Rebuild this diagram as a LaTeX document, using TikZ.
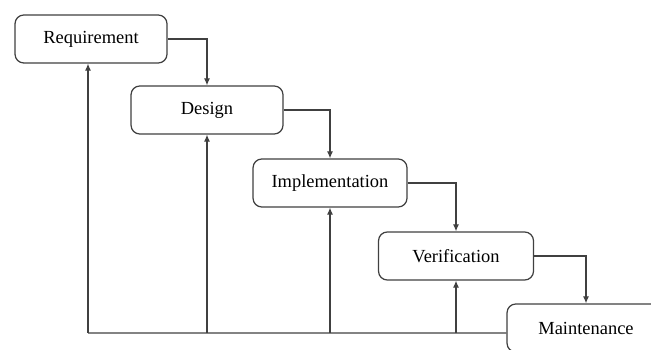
\documentclass[tikz,border=0pt]{standalone}
\usepackage{fontspec}
\setmainfont{Liberation Serif}
\usetikzlibrary{arrows.meta}
\begin{document}
\begin{tikzpicture}[x=0.02cm, y=-0.02cm]
	\tikzset{stage/.style={rectangle, rounded corners=5pt, draw=black!75, line width=0.7pt, fill=white, minimum width=3.04cm, minimum height=0.96cm, font=\fontsize{10.5}{12}\selectfont}};
	\tikzset{link/.style={draw=black!75, line width=0.7pt}};
	\tikzset{flow/.style={link, -{Latex[length=4pt, width=3.5pt]}}};

	\clip (0,0) rectangle (651,350);

	\node[stage] (req) at (91,39) {Requirement};
	\node[stage] (des) at (207,110) {Design};
	\node[stage, minimum width=3.08cm] (imp) at (330,183) {Implementation};
	\node[stage, minimum width=3.1cm] (ver) at (456,256) {Verification};
	\node[stage, minimum width=3.16cm] (mai) at (586,328) {Maintenance};

	\coordinate (base) at (88,333);

	\draw[flow] (req.east) -| (des.north);
	\draw[flow] (des.east) -| (imp.north);
	\draw[flow] (imp.east) -| (ver.north);
	\draw[flow] (ver.east) -| (mai.north);

	\draw[link] ([yshift=-0.1cm]mai.west) -- (base);
	\draw[flow] (base) -- (base |- req.south);
	\draw[flow] (base -| des.south) -- (des.south);
	\draw[flow] (base -| imp.south) -- (imp.south);
	\draw[flow] (base -| ver.south) -- (ver.south);

\end{tikzpicture}
\end{document}
